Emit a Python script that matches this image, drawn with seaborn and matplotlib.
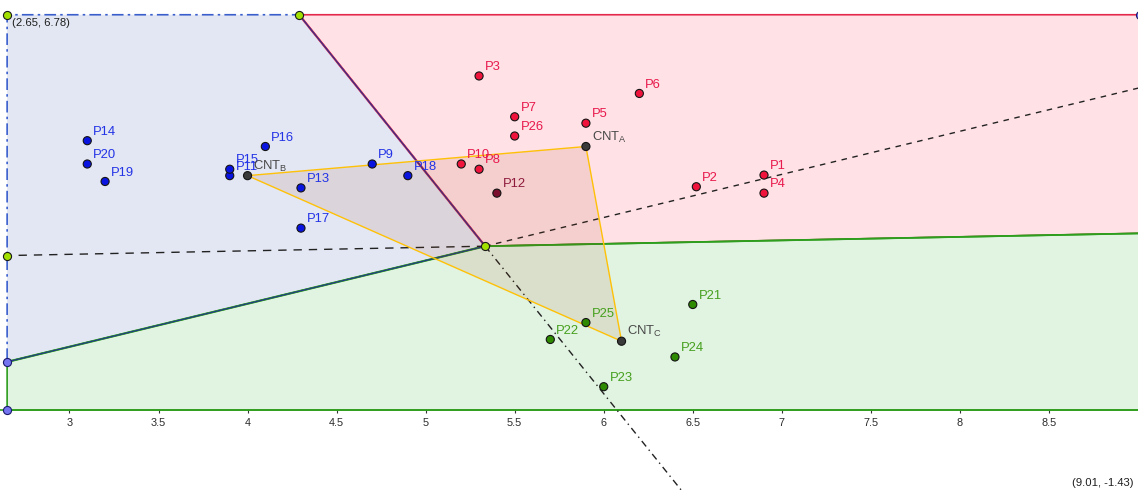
import numpy as np
import pandas as pd
import matplotlib
matplotlib.use("Agg")
import matplotlib.pyplot as plt
import seaborn as sns
from matplotlib.patches import Polygon

# ---- cluster members -------------------------------------------------------
names_a = ["P1", "P2", "P3", "P4", "P5", "P6", "P7", "P8", "P10", "P12", "P26"]
x_a = [6.90, 6.52, 5.30, 6.90, 5.90, 6.20, 5.50, 5.30, 5.20, 5.40, 5.50]
y_a = [4.03, 3.83, 5.73, 3.72, 4.92, 5.43, 5.03, 4.13, 4.22, 3.72, 4.70]

names_b = ["P9", "P11", "P13", "P14", "P15", "P16", "P17", "P18", "P19", "P20"]
x_b = [4.70, 3.90, 4.30, 3.10, 3.90, 4.10, 4.30, 4.90, 3.20, 3.10]
y_b = [4.22, 4.02, 3.81, 4.62, 4.13, 4.52, 3.12, 4.02, 3.92, 4.22]

names_c = ["P21", "P22", "P23", "P24", "P25"]
x_c = [6.50, 5.70, 6.00, 6.40, 5.90]
y_c = [1.81, 1.21, 0.40, 0.91, 1.50]

# cluster centres
cnt_names = ["A", "B", "C"]
cnt_x = [5.90, 4.00, 6.10]
cnt_y = [4.52, 4.02, 1.18]

# bounding box of the partition
corner_tl = (2.65, 6.78)
corner_br = (9.01, -1.43)
region_bottom = 0.0

tick_values = [3, 3.5, 4, 4.5, 5, 5.5, 6, 6.5, 7, 7.5, 8, 8.5]

# ---- styling ---------------------------------------------------------------
sns.set_theme(style="white")
plt.rcParams["font.family"] = ["Liberation Sans", "DejaVu Sans"]
plt.rcParams["mathtext.fontset"] = "custom"
plt.rcParams["mathtext.rm"] = "Liberation Sans"
plt.rcParams["mathtext.it"] = "Liberation Sans:italic"

fill_col = {"A": "#FFE1E6", "B": "#E3E7F3", "C": "#E1F3E1"}
edge_col = {"A": "#E3284C", "B": "#3A5FCD", "C": "#2E9E1E"}
point_col = {"A": "#F0143C", "A2": "#7A0C2C", "B": "#0A14E0",
             "C": "#2E8A00", "CNT": "#3A3A3A"}
label_col = {"A": "#E8194C", "A2": "#8E1A3C", "B": "#2333E6",
             "C": "#45A01E", "CNT": "#484848"}
vertex_col = "#A2E000"
frame_pt_col = "#7474F0"

fig = plt.figure(figsize=(11.38, 4.9), dpi=100)
ax = fig.add_axes([0, 0, 1, 1])
ax.set_xlim(2.61, 9.0)
ax.set_ylim(-1.372, 7.033)

centres = np.column_stack([cnt_x, cnt_y])
xmin, ymax = corner_tl
xmax = corner_br[0]
ymin = region_bottom


def clip(poly, a, b):
    """Keep the part of poly where a . p <= b (Sutherland-Hodgman)."""
    out = []
    n = len(poly)
    for i in range(n):
        p, q = np.array(poly[i]), np.array(poly[(i + 1) % n])
        fp, fq = a @ p - b, a @ q - b
        if fp <= 0:
            out.append(p)
        if fp * fq < 0:
            t = fp / (fp - fq)
            out.append(p + t * (q - p))
    return out


def bisector(i, j):
    """Midpoint and direction of the perpendicular bisector of centres i, j."""
    ci, cj = centres[i], centres[j]
    m = (ci + cj) / 2
    d = cj - ci
    return m, np.array([-d[1], d[0]])


def at_x(i, j, xv):
    m, d = bisector(i, j)
    t = (xv - m[0]) / d[0]
    return m + t * d


def at_y(i, j, yv):
    m, d = bisector(i, j)
    t = (yv - m[1]) / d[1]
    return m + t * d


box = [(xmin, ymin), (xmax, ymin), (xmax, ymax), (xmin, ymax)]
cells = {}
for i, key in enumerate(cnt_names):
    poly = box
    for j in range(3):
        if j == i:
            continue
        a = 2 * (centres[j] - centres[i])
        b = centres[j] @ centres[j] - centres[i] @ centres[i]
        poly = clip(poly, a, b)
    cells[key] = np.array(poly)

# common vertex of the three cells
A_mat = np.array([2 * (centres[1] - centres[0]), 2 * (centres[2] - centres[0])])
b_vec = np.array([centres[1] @ centres[1] - centres[0] @ centres[0],
                  centres[2] @ centres[2] - centres[0] @ centres[0]])
vertex = np.linalg.solve(A_mat, b_vec)

# region fills
for key in cnt_names:
    ls = (0, (7, 2.5, 1.5, 2.5)) if key == "B" else "-"
    ax.add_patch(Polygon(cells[key], closed=True, facecolor=fill_col[key],
                         edgecolor=edge_col[key], lw=1.2, linestyle=ls, zorder=1))

# shared borders
ab_top = at_y(0, 1, ymax)
bc_left = at_x(1, 2, xmin)
ac_right = at_x(0, 2, xmax)
ax.plot([ab_top[0], vertex[0]], [ab_top[1], vertex[1]], color=edge_col["A"], lw=1.6, zorder=2)
ax.plot([ab_top[0], vertex[0]], [ab_top[1], vertex[1]], color="#24348F", lw=0.8, zorder=2.1)
ax.plot([bc_left[0], vertex[0]], [bc_left[1], vertex[1]], color=edge_col["C"], lw=1.6, zorder=2)
ax.plot([bc_left[0], vertex[0]], [bc_left[1], vertex[1]], color="#24348F", lw=0.8, zorder=2.1)
ax.plot([vertex[0], ac_right[0]], [vertex[1], ac_right[1]], color=edge_col["C"], lw=1.3, zorder=2.1)

# extensions of the bisectors past the common vertex
ac_left = at_x(0, 2, xmin)
bc_right = at_x(1, 2, xmax)
ab_low = at_y(0, 1, corner_br[1])
ax.plot([vertex[0], ac_left[0]], [vertex[1], ac_left[1]], color="#222222", lw=1.0,
        linestyle=(0, (6, 5)), zorder=3)
ax.plot([vertex[0], bc_right[0]], [vertex[1], bc_right[1]], color="#222222", lw=1.0,
        linestyle=(0, (4, 4)), zorder=3)
ax.plot([vertex[0], ab_low[0]], [vertex[1], ab_low[1]], color="#222222", lw=1.0,
        linestyle=(0, (5, 3, 1, 3)), zorder=3)

# triangle through the centres
ax.add_patch(Polygon(centres, closed=True, facecolor="#993300", alpha=0.1,
                     edgecolor="none", zorder=3))
ax.add_patch(Polygon(centres, closed=True, facecolor="none",
                     edgecolor="#FFC107", lw=1.0, zorder=3.2))

# frame / construction points
frame_green = np.array([corner_tl, ab_top, vertex, ac_left])
frame_blue = np.array([bc_left, (xmin, ymin), (xmax, ymax)])
ax.scatter(frame_green[:, 0], frame_green[:, 1], s=34, color=vertex_col,
           edgecolor="#1A1A1A", lw=0.8, zorder=5)
ax.scatter(frame_blue[:, 0], frame_blue[:, 1], s=34, color=frame_pt_col,
           edgecolor="#1A1A6A", lw=0.8, zorder=5, clip_on=False)

# data points
groups = (["A2" if n == "P12" else "A" for n in names_a]
          + ["B"] * len(names_b) + ["C"] * len(names_c) + ["CNT"] * 3)
df = pd.DataFrame({
    "name": names_a + names_b + names_c + [f"CNT{c}" for c in cnt_names],
    "x": x_a + x_b + x_c + cnt_x,
    "y": y_a + y_b + y_c + cnt_y,
    "group": groups,
})
sns.scatterplot(data=df, x="x", y="y", hue="group", palette=point_col, s=34,
                edgecolor="#141414", linewidth=0.8, legend=False, ax=ax, zorder=6)

for _, r in df.iterrows():
    if r["group"] == "CNT":
        txt = r"CNT$_{\mathrm{" + r["name"][-1] + "}}$"
    else:
        txt = r["name"]
    ax.annotate(txt, (r["x"], r["y"]), xytext=(4.2, 4.2), textcoords="offset points",
                ha="left", va="baseline", fontsize=9.4, color=label_col[r["group"]],
                zorder=7)

# corner labels
ax.annotate(f"({corner_tl[0]:.2f}, {corner_tl[1]:.2f})", corner_tl, xytext=(3.3, -2.6),
            textcoords="offset points", ha="left", va="top", fontsize=8.1,
            color="#1E1E1E", zorder=7)
ax.annotate(f"({corner_br[0]:.2f}, {corner_br[1]:.2f})", corner_br, xytext=(-4.5, 4.0),
            textcoords="offset points", ha="right", va="bottom", fontsize=8.1,
            color="#1E1E1E", zorder=7, annotation_clip=False)

# axis: only the x axis at y = 0
for side in ("left", "right", "top"):
    ax.spines[side].set_visible(False)
ax.spines["bottom"].set_position(("data", 0))
ax.spines["bottom"].set_color(edge_col["C"])
ax.spines["bottom"].set_linewidth(1.2)
ax.spines["bottom"].set_zorder(2)
ax.set_xticks(tick_values)
ax.set_xticklabels([f"{v:g}" for v in tick_values])
ax.set_yticks([])
ax.tick_params(axis="x", direction="out", length=2.4, width=0.8, color="#333333",
               labelsize=7.8, labelcolor="#2A2A2A", pad=3.3, bottom=True)
ax.set_xlabel("")
ax.set_ylabel("")
ax.set_facecolor("white")

fig.savefig("out.png", dpi=100)
